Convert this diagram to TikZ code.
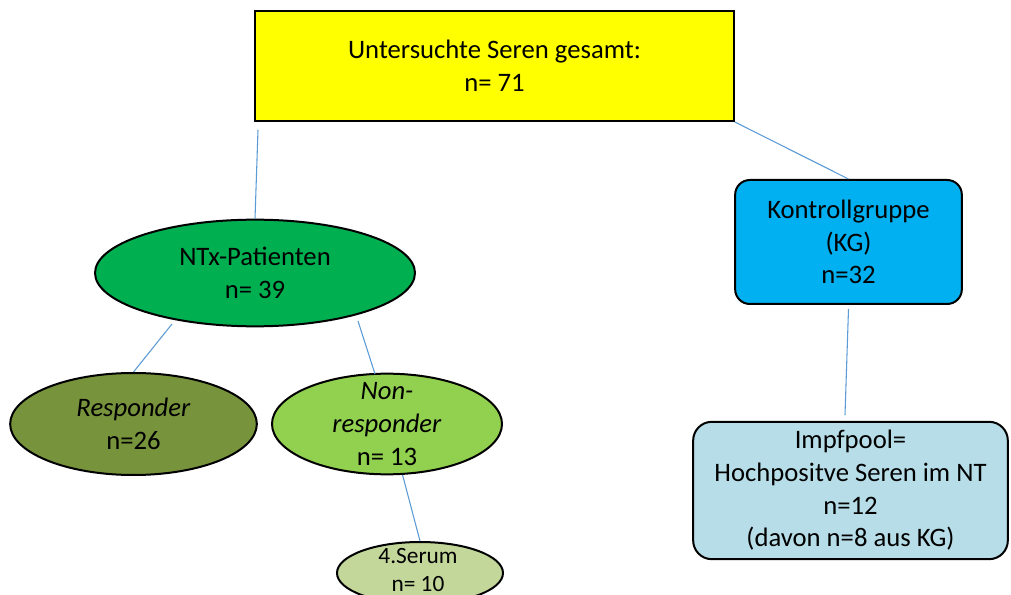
\documentclass[tikz,border=0pt]{standalone}
\usepackage{fontspec}
\setmainfont{Carlito}
\usetikzlibrary{shapes.geometric}
\definecolor{Gesamt}{HTML}{FFFF00}
\definecolor{NTxGreen}{HTML}{00B050}
\definecolor{RespGreen}{HTML}{77933C}
\definecolor{NonGreen}{HTML}{92D050}
\definecolor{SerumGreen}{HTML}{C4D79B}
\definecolor{KGBlue}{HTML}{00B0F0}
\definecolor{PoolBlue}{HTML}{B7DEE8}
\definecolor{Link}{HTML}{5B9BD5}

\begin{document}
\begin{tikzpicture}[x=0.75pt, y=-0.75pt,
    box/.style={draw=black, line width=1.5pt, inner sep=0pt},
    oval/.style={ellipse, draw=black, line width=1.5pt, inner sep=0pt},
    txt/.style={align=center, font=\fontsize{20}{24.5}\selectfont},
    small/.style={align=center, font=\fontsize{17.5}{21}\selectfont},
    link/.style={draw=Link, line width=0.8pt}]
  \clip (0,0) rectangle (1011,595);
  \fill[white] (0,0) rectangle (1011,595);

  \node[box, txt, fill=Gesamt, minimum width=359pt, minimum height=82.5pt] (gesamt) at (494.5,66)
    {Untersuchte Seren gesamt:\\n= 71};
  \node[box, txt, fill=KGBlue, rounded corners=11pt, minimum width=170pt, minimum height=93pt] (kg) at (848.5,242)
    {Kontrollgruppe\\(KG)\\n=32};
  \node[box, txt, fill=PoolBlue, rounded corners=14pt, minimum width=236pt, minimum height=103pt] (pool) at (850.5,490.5)
    {Impfpool=\\Hochpositve Seren im NT\\n=12\\(davon n=8 aus KG)};

  \node[oval, fill=NTxGreen, minimum width=240pt, minimum height=80pt] (ntx) at (255,273) {};
  \node[txt] (ntxtext) at (ntx) {NTx-Patienten\\n= 39};
  \node[oval, fill=RespGreen, minimum width=185pt, minimum height=76.5pt] (resp) at (133.5,424) {};
  \node[txt] (resptext) at (resp) {\textit{Responder}\\n=26};
  \node[oval, fill=NonGreen, minimum width=172.5pt, minimum height=75.5pt] (non) at (387,424) {};
  \node[txt] (nontext) at (non) {\textit{Non-}\\\textit{responder}\\n= 13};
  \node[oval, fill=SerumGreen, minimum width=124.5pt, minimum height=46.5pt] (serum) at (420,573) {};
  \node[small] (serumtext) at (418,570) {4.Serum\\n= 10};

  \coordinate (g1) at (258,130);
  \coordinate (p1) at (845,415);
  \coordinate (n1) at (172,324);
  \coordinate (n2) at (358,321);
  \coordinate (n3) at (375,374);
  \draw[link] (g1) -- (ntx.north);
  \draw[link] (gesamt.south east) -- (kg.north);
  \draw[link] ([yshift=-3pt]kg.south) -- (p1);
  \draw[link] (n1) -- (resp.north);
  \draw[link] (n2) -- (n3);
  \draw[link] (non.287) -- (serum.north);
\end{tikzpicture}
\end{document}
